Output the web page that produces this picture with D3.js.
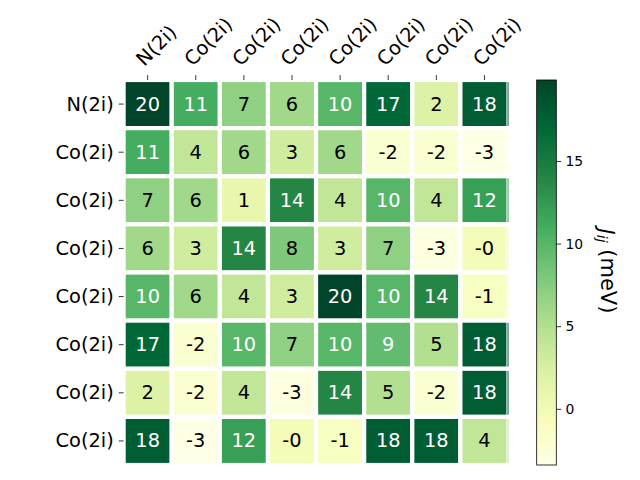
<!DOCTYPE html>
<html><head><meta charset="utf-8">
<script src="https://cdn.jsdelivr.net/npm/d3@7"></script>
<style>body{margin:0;background:#fff}svg{display:block}text{font-family:"DejaVu Sans",sans-serif}</style>
</head><body><svg id="c" width="640" height="480"></svg>
<script>
const rowLabels = ["N(2i)","Co(2i)","Co(2i)","Co(2i)","Co(2i)","Co(2i)","Co(2i)","Co(2i)"];
const colLabels = ["N(2i)","Co(2i)","Co(2i)","Co(2i)","Co(2i)","Co(2i)","Co(2i)","Co(2i)"];
const row0 = [19.9, 11, 7, 6, 10, 17, 2, 18];
const row1 = [11, 4, 6, 3, 6, -2, -2, -3.4];
const row2 = [7, 6, 1, 14, 4, 10, 4, 12];
const row3 = [6, 3, 14, 8, 3, 7, -3, -0.3];
const row4 = [10, 6, 4, 3, 19.9, 10, 14, -1];
const row5 = [17, -2, 10, 7, 10, 9.4, 5, 18];
const row6 = [2, -2, 4, -3, 14, 5, -2, 18];
const row7 = [18, -3.4, 12, -0.3, -1, 18, 18, 4];
const matrix = [row0,row1,row2,row3,row4,row5,row6,row7];
const cbTicks = [0, 5, 10, 15];
const cbLabel = "J";

const ylgn = ["#ffffe5","#f7fcb9","#d9f0a3","#addd8e","#78c679","#41ab5d","#238443","#006837","#004529"];
const vals = matrix.flat();
const vmin = d3.min(vals), vmax = d3.max(vals);
const norm = d3.scaleLinear().domain([vmin, vmax]).range([0,1]);
const cmapS = d3.scaleLinear().domain(d3.range(9).map(i=>i/8)).range(ylgn).interpolate(d3.interpolateRgb);
const color = v => cmapS(norm(v));

const svg = d3.select("#c");
const X0 = 123.6, X1 = 508.5, Y0 = 80, Y1 = 465;
const x = d3.scaleBand().domain(d3.range(8)).range([X0, X1]);
const y = d3.scaleBand().domain(d3.range(8)).range([Y0, Y1]);
const FS = 19.4;

function lum(c){
  const r = d3.rgb(c);
  const f = v => { v/=255; return v <= 0.03928 ? v/12.92 : Math.pow((v+0.055)/1.055, 2.4); };
  return 0.2126*f(r.r)+0.7152*f(r.g)+0.0722*f(r.b);
}

const cells = [];
matrix.forEach((row,i)=>row.forEach((v,j)=>cells.push({i,j,v})));

const g = svg.append("g");
g.selectAll("rect.cell").data(cells).join("rect").attr("class","cell")
  .attr("x", d=>x(d.j)).attr("y", d=>y(d.i))
  .attr("width", x.bandwidth()).attr("height", y.bandwidth())
  .attr("fill", d=>color(d.v)).attr("stroke","#fff").attr("stroke-width",4.2);
// thin sliver of last column visible at right edge
g.selectAll("rect.sliver").data(cells.filter(d=>d.j===7)).join("rect").attr("class","sliver")
  .attr("x", X1-1).attr("y", d=>y(d.i)+2.1)
  .attr("width", 1).attr("height", y.bandwidth()-4.2)
  .attr("fill", d=>color(d.v));

g.selectAll("text.ann").data(cells).join("text").attr("class","ann")
  .attr("x", d=>x(d.j)+x.bandwidth()/2).attr("y", d=>y(d.i)+y.bandwidth()/2)
  .attr("text-anchor","middle").attr("dominant-baseline","central")
  .attr("font-size",FS)
  .attr("fill", d=> lum(color(d.v)) > 0.408 ? "#000" : "#fff")
  .text(d=>{ const r = Math.round(d.v); return (r===0 && d.v<0) ? "-0" : String(r); });

// y axis ticks + labels
const ya = svg.append("g");
rowLabels.forEach((lab,i)=>{
  const cy = y(i)+y.bandwidth()/2;
  ya.append("line").attr("x1",X0-4.9).attr("x2",X0).attr("y1",cy).attr("y2",cy).attr("stroke","#000").attr("stroke-width",0.8);
  ya.append("text").attr("x",X0-4.9-4.9).attr("y",cy).attr("text-anchor","end").attr("dominant-baseline","central")
    .attr("font-size",FS).text(lab);
});
// top x ticks + rotated labels
const xa = svg.append("g");
colLabels.forEach((lab,j)=>{
  const cx = x(j)+x.bandwidth()/2;
  xa.append("line").attr("x1",cx).attr("x2",cx).attr("y1",Y0-4.9).attr("y2",Y0).attr("stroke","#000").attr("stroke-width",0.8);
  xa.append("text").attr("transform",`translate(${cx},${Y0-4.9-4.9}) rotate(-45)`)
    .attr("text-anchor","start").attr("dy","-0.24em")
    .attr("font-size",FS).text(lab);
});

// colorbar
const CX0 = 536.7, CX1 = 556.3;
const cy = d3.scaleLinear().domain([vmin, vmax]).range([Y1, Y0]);
const defs = svg.append("defs");
const grad = defs.append("linearGradient").attr("id","cbg").attr("x1",0).attr("y1",1).attr("x2",0).attr("y2",0);
ylgn.forEach((c,i)=>grad.append("stop").attr("offset",i/8).attr("stop-color",c));
svg.append("rect").attr("x",CX0).attr("y",Y0).attr("width",CX1-CX0).attr("height",Y1-Y0)
  .attr("fill","url(#cbg)").attr("stroke","#000").attr("stroke-width",0.8);
const cax = svg.append("g").attr("transform",`translate(${CX1},0)`)
  .call(d3.axisRight(cy).tickValues(cbTicks).tickSize(4.9).tickPadding(4.2).tickFormat(d3.format("d")));
cax.select(".domain").remove();
cax.selectAll("line").attr("stroke-width",0.8);
cax.selectAll("text").attr("font-size",13.9).attr("font-family","DejaVu Sans");

const lt = svg.append("text").attr("transform",`translate(606,271) rotate(90)`)
  .attr("text-anchor","middle").attr("dominant-baseline","central").attr("font-size",21);
lt.append("tspan").attr("font-style","italic").text(cbLabel);
lt.append("tspan").attr("font-style","italic").attr("font-size",14).attr("dy","0.3em").text("ij");
lt.append("tspan").attr("dy","-0.3em").text(" (meV)");
</script></body></html>
